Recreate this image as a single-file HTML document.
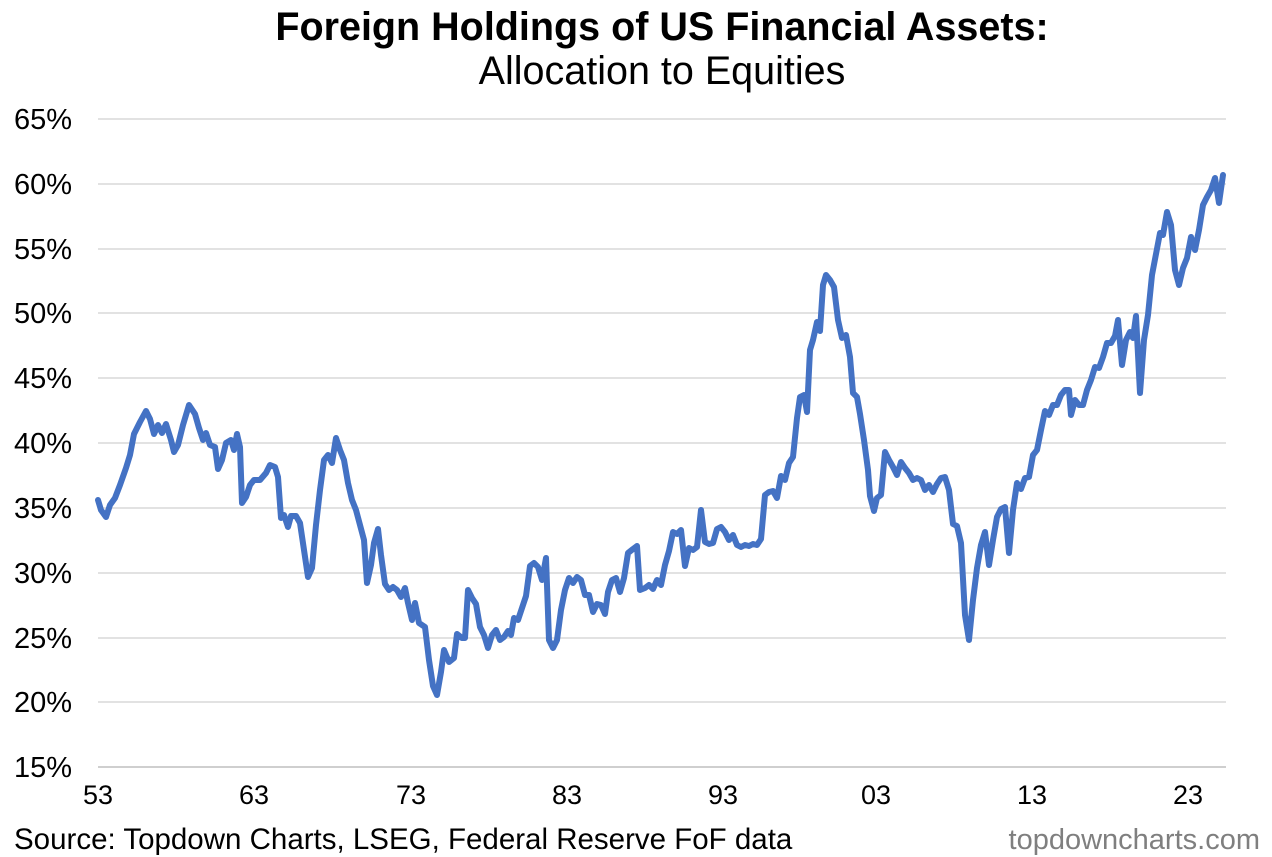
<!DOCTYPE html>
<html><head><meta charset="utf-8"><style>
html,body{margin:0;padding:0;background:#fff;}
svg{display:block;font-family:"Liberation Sans",Arial,sans-serif;}
</style></head><body>
<svg width="1272" height="857" viewBox="0 0 1272 857" xmlns="http://www.w3.org/2000/svg">
<text x="662" y="40" text-anchor="middle" font-size="39.5" font-weight="bold" fill="#000">Foreign Holdings of US Financial Assets:</text>
<text x="662" y="84" text-anchor="middle" font-size="39.5" fill="#000">Allocation to Equities</text>
<g stroke="#d9d9d9" stroke-width="1.5">
<line x1="98" x2="1226" y1="119" y2="119"/><line x1="98" x2="1226" y1="184" y2="184"/>
<line x1="98" x2="1226" y1="249" y2="249"/><line x1="98" x2="1226" y1="313" y2="313"/>
<line x1="98" x2="1226" y1="378" y2="378"/><line x1="98" x2="1226" y1="443" y2="443"/>
<line x1="98" x2="1226" y1="508" y2="508"/><line x1="98" x2="1226" y1="573" y2="573"/>
<line x1="98" x2="1226" y1="638" y2="638"/><line x1="98" x2="1226" y1="702" y2="702"/>
</g>
<line x1="98" x2="1226" y1="767" y2="767" stroke="#bfbfbf" stroke-width="1.5"/>
<g font-size="29" fill="#000" text-anchor="end">
<text x="72" y="129">65%</text><text x="72" y="194">60%</text><text x="72" y="259">55%</text>
<text x="72" y="323">50%</text><text x="72" y="388">45%</text><text x="72" y="453">40%</text>
<text x="72" y="518">35%</text><text x="72" y="583">30%</text><text x="72" y="648">25%</text>
<text x="72" y="712">20%</text><text x="72" y="777">15%</text>
</g>
<g font-size="27" fill="#000" text-anchor="middle">
<text x="98" y="804">53</text><text x="254" y="804">63</text><text x="411" y="804">73</text>
<text x="567" y="804">83</text><text x="723" y="804">93</text><text x="876" y="804">03</text>
<text x="1032" y="804">13</text><text x="1188" y="804">23</text>
</g>
<polyline fill="none" stroke="#4472c4" stroke-width="6" stroke-linejoin="round" stroke-linecap="round" points="98,500 101,510 106,517 110,505 115,498 120,485 126,468 130,455 134,434 140,422 146,411 150,419 154,434 158,425 162,433 166,424 171,440 174,452 178,445 183,425 189,405 195,414 199,428 203,440 206,433 210,445 215,447 218,469 222,460 226,443 231,440 234,450 237,434 240,447 242,503 246,497 250,485 254,480 260,480 266,473 270,465 275,467 278,477 281,518 284,515 288,527 291,516 296,516 300,523 304,550 308,577 312,568 316,525 320,490 324,460 328,455 332,463 336,438 340,450 344,460 348,483 352,500 356,510 360,525 364,540 367,583 371,565 374,543 378,529 381,555 385,584 389,590 393,587 397,590 401,597 405,588 408,603 412,620 415,603 419,623 425,627 429,660 433,686 437,695 441,672 444,650 449,662 454,658 457,634 462,638 465,638 468,590 472,598 476,604 480,627 484,635 488,648 492,635 496,630 500,640 504,637 508,631 511,635 514,618 518,620 522,608 526,596 530,566 534,563 538,567 542,580 546,558 549,640 553,648 557,640 561,610 565,590 569,578 573,583 577,577 581,580 585,595 589,595 593,612 597,604 601,605 605,614 608,592 612,580 616,578 620,592 624,578 628,553 633,549 637,546 640,590 645,588 649,585 653,589 657,580 661,585 665,565 669,551 673,532 677,534 681,530 685,566 689,548 693,550 697,547 701,510 705,542 709,544 713,543 717,529 721,527 725,532 729,540 733,535 737,545 741,547 745,545 749,546 753,544 757,545 761,539 765,495 769,492 773,491 777,498 781,476 785,480 789,463 793,457 797,418 800,397 804,395 807,412 810,350 813,340 817,322 820,331 823,285 826,275 830,280 834,287 838,320 842,338 846,335 850,357 853,393 857,397 860,414 864,440 868,470 870,496 874,511 877,498 881,495 885,452 889,460 893,467 897,475 901,462 905,468 909,473 913,480 917,478 921,480 925,490 929,485 933,492 937,484 941,478 945,477 949,490 953,524 957,526 961,543 965,615 969,640 973,600 977,568 981,545 985,532 989,565 993,540 997,517 1001,509 1005,507 1009,553 1013,510 1017,483 1021,489 1025,478 1029,477 1033,455 1037,450 1041,430 1045,411 1049,415 1053,405 1057,405 1061,395 1065,390 1069,390 1071,415 1075,400 1079,405 1083,405 1087,390 1091,380 1095,367 1099,368 1103,357 1107,343 1111,343 1115,336 1118,320 1122,365 1126,340 1130,332 1133,338 1136,316 1140,393 1144,340 1148,315 1152,275 1156,254 1160,233 1163,235 1167,212 1171,225 1175,270 1179,285 1183,268 1187,258 1191,237 1195,250 1199,230 1203,205 1207,197 1211,190 1215,178 1219,203 1223,175"/>
<text x="14" y="849" font-size="29.5" fill="#000">Source: Topdown Charts, LSEG, Federal Reserve FoF data</text>
<text x="1260" y="849" font-size="29" fill="#7f7f7f" text-anchor="end">topdowncharts.com</text>
</svg>
</body></html>
